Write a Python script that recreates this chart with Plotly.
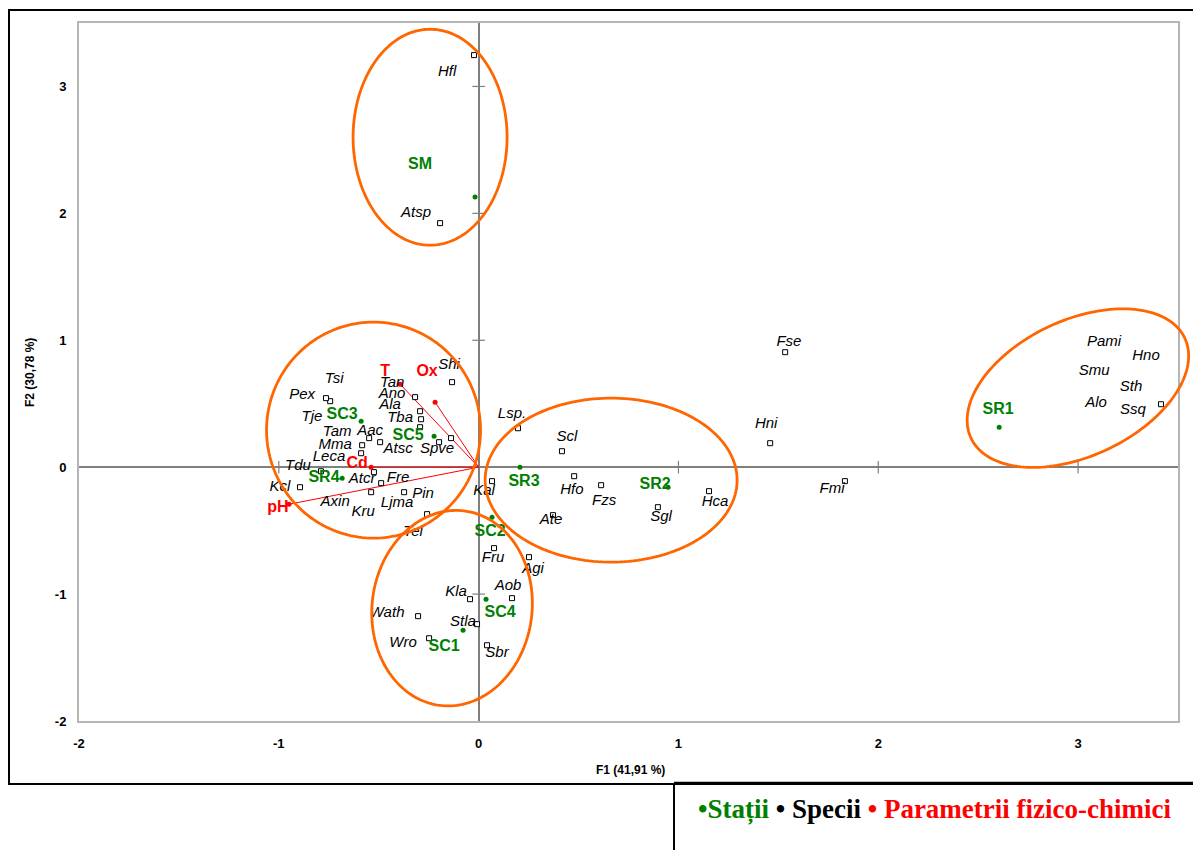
import numpy as np
import plotly.graph_objects as go

# ---------------- data ----------------
SPECIES = ["Hfl", "Atsp", "Fse", "Hni", "Fmi", "Ssq", "Pami", "Hno", "Smu", "Sth",
           "Alo", "Lsp.", "Scl", "Kal", "Hfo", "Fzs", "Ate", "Sgl", "Hca", "Tel",
           "Fru", "Agi", "Aob", "Kla", "Wath", "Stla", "Wro", "Sbr", "Shi", "Tan",
           "Ano", "Ala", "Tba", "Atsc", "Spve", "Tsi", "Pex", "Tje", "Tam", "Aac",
           "Mma", "Leca", "Tdu", "Kcl", "Atcr", "Fre", "Axin", "Kru", "Ljma", "Pin"]
SP_X = [-0.023, -0.193, 1.534, 1.459, 1.833, 3.415, None, None, None, None,
        None, 0.197, 0.417, 0.067, 0.478, 0.613, 0.372, 0.897, 1.153, -0.258,
        0.077, 0.252, 0.167, -0.043, -0.303, -0.008, -0.248, 0.042, -0.133, -0.318,
        -0.293, -0.288, -0.293, -0.198, -0.138, -0.743, -0.764, None, -0.548, -0.493,
        -0.583, -0.588, -0.789, -0.894, -0.524, -0.488, None, -0.538, None, -0.373]
SP_Y = [3.247, 1.923, 0.906, 0.189, -0.110, 0.496, None, None, None, None,
        None, 0.307, 0.126, -0.110, -0.071, -0.142, -0.378, -0.315, -0.189, -0.370,
        -0.638, -0.709, -1.032, -1.040, -1.174, -1.237, -1.348, -1.403, 0.670, 0.552,
        0.441, 0.378, 0.315, 0.197, 0.229, 0.520, 0.544, None, 0.229, 0.197,
        0.173, 0.110, -0.032, -0.158, -0.039, -0.126, None, -0.197, None, -0.197]
SP_LABEL_X = [-0.158, -0.313, 1.553, 1.439, 1.769, 3.275, 3.130, 3.340, 3.080, 3.265,
              3.090, 0.167, 0.442, 0.027, 0.467, 0.628, 0.362, 0.913, 1.183, -0.328,
              0.072, 0.272, 0.147, -0.113, -0.458, -0.078, -0.378, 0.092, -0.148, -0.433,
              -0.433, -0.443, -0.393, -0.403, -0.208, -0.723, -0.883, -0.834, -0.708, -0.543,
              -0.718, -0.749, -0.904, -0.994, -0.583, -0.403, -0.718, -0.578, -0.408, -0.278]
SP_LABEL_Y = [3.113, 2.002, 0.985, 0.339, -0.173, 0.449, 0.985, 0.875, 0.756, 0.630,
              0.504, 0.418, 0.236, -0.189, -0.181, -0.268, -0.418, -0.394, -0.276, -0.512,
              -0.717, -0.804, -0.938, -0.985, -1.150, -1.221, -1.387, -1.466, 0.804, 0.662,
              0.575, 0.489, 0.386, 0.142, 0.142, 0.693, 0.567, 0.394, 0.276, 0.284,
              0.173, 0.079, 0.008, -0.158, -0.095, -0.087, -0.276, -0.355, -0.284, -0.213]

STATIONS = ["SM", "SR1", "SR2", "SR3", "SR4", "SC1", "SC2", "SC3", "SC4", "SC5"]
ST_X = [-0.018, 2.605, 0.948, 0.207, -0.683, -0.078, 0.067, -0.588, 0.037, -0.223]
ST_Y = [2.128, 0.315, -0.158, 0.000, -0.087, -1.284, -0.394, 0.362, -1.040, 0.244]
ST_LABEL_X = [-0.293, 2.600, 0.883, 0.227, -0.774, -0.173, 0.057, -0.683, 0.107, -0.353]
ST_LABEL_Y = [2.380, 0.449, -0.142, -0.118, -0.087, -1.418, -0.512, 0.410, -1.150, 0.244]

PARAMS = ["T", "Ox", "Cd", "pH"]
PA_X = [-0.393, -0.218, -0.538, -0.949]
PA_Y = [0.654, 0.512, 0.000, -0.292]
PA_LABEL_X = [-0.468, -0.258, -0.608, -1.004]
PA_LABEL_Y = [0.749, 0.749, 0.024, -0.323]

X_TICKS = [-2, -1, 0, 1, 2, 3]
Y_TICKS = [-2, -1, 0, 1, 2, 3]
X_TICK_TEXT = ["-2", "-1", "0", "1", "2", "3"]
Y_TICK_TEXT = ["-2", "-1", "0", "1", "2", "3"]

# group ellipses: centre (data), semi-axes (screen px), rotation (deg)
ELLIPSES = [
    (-0.243, 2.600, 77, 108, 0),
    (-0.526, 0.292, 107, 108, 0),
    (0.663, -0.102, 126, 82, 0),
    (-0.133, -1.111, 80, 98, -7),
    (2.999, 0.623, 118, 68, 25),
]

# ---------------- figure ----------------
W, H = 1193, 850
ML, MR, MT, MB = 79, 15, 23, 129
XR = [-2, 3.5]
YR = [-2, 3.5]
SX = (W - ML - MR) / (XR[1] - XR[0])
SY = (H - MT - MB) / (YR[1] - YR[0])

GREEN = "#008000"
RED = "#FF0000"
ORANGE = "#FF6600"
AXGREY = "#7f7f7f"
FONT = "Liberation Sans"

fig = go.Figure()

# tick crosses on the zero axes
fig.add_trace(go.Scatter(x=[t for t in X_TICKS if t not in (0, -2)],
                         y=[0] * 4, mode="markers", hoverinfo="skip",
                         marker=dict(symbol="line-ns", size=9,
                                     line=dict(color=AXGREY, width=1.2))))
fig.add_trace(go.Scatter(x=[0] * 4, y=[t for t in Y_TICKS if t not in (0, -2)],
                         mode="markers", hoverinfo="skip",
                         marker=dict(symbol="line-ew", size=9,
                                     line=dict(color=AXGREY, width=1.2))))

# parameter vectors
for px, py in zip(PA_X, PA_Y):
    fig.add_trace(go.Scatter(x=[0, px], y=[0, py], mode="lines", hoverinfo="skip",
                             line=dict(color=RED, width=1)))

# species markers
fig.add_trace(go.Scatter(x=SP_X, y=SP_Y, mode="markers", hoverinfo="skip",
                         marker=dict(symbol="square", size=5, color="white",
                                     line=dict(color="black", width=1))))
# station markers
fig.add_trace(go.Scatter(x=ST_X, y=ST_Y, mode="markers", hoverinfo="skip",
                         marker=dict(symbol="circle", size=5, color=GREEN)))
# parameter markers
fig.add_trace(go.Scatter(x=PA_X, y=PA_Y, mode="markers", hoverinfo="skip",
                         marker=dict(symbol="circle", size=5, color=RED)))

# labels
fig.add_trace(go.Scatter(x=SP_LABEL_X, y=SP_LABEL_Y, text=SPECIES, mode="text",
                         textposition="middle center", hoverinfo="skip",
                         textfont=dict(family=FONT, size=15, color="black",
                                       style="italic")))
fig.add_trace(go.Scatter(x=ST_LABEL_X, y=ST_LABEL_Y, text=STATIONS, mode="text",
                         textposition="middle center", hoverinfo="skip",
                         textfont=dict(family=FONT, size=16, color=GREEN,
                                       weight="bold")))
fig.add_trace(go.Scatter(x=PA_LABEL_X, y=PA_LABEL_Y, text=PARAMS, mode="text",
                         textposition="middle center", hoverinfo="skip",
                         textfont=dict(family=FONT, size=16, color=RED,
                                       weight="bold")))


def px_x(p):
    return (p - ML) / (W - ML - MR)


def px_y(p):
    return (H - MB - p) / (H - MT - MB)


# ellipses as paper-referenced paths (so they may extend past the plot frame)
t = np.linspace(0, 2 * np.pi, 181)
for cx, cy, a, b, ang in ELLIPSES:
    th = np.deg2rad(ang)
    u, v = a * np.cos(t), b * np.sin(t)
    X = u * np.cos(th) - v * np.sin(th)
    Y = u * np.sin(th) + v * np.cos(th)
    xs = (cx + X / SX - XR[0]) / (XR[1] - XR[0])
    ys = (cy + Y / SY - YR[0]) / (YR[1] - YR[0])
    path = "M " + " L ".join(f"{xx:.5f},{yy:.5f}" for xx, yy in zip(xs, ys)) + " Z"
    fig.add_shape(type="path", xref="paper", yref="paper", path=path,
                  line=dict(color=ORANGE, width=2.8), layer="above")

# outer frame and legend box
fig.add_shape(type="rect", xref="paper", yref="paper",
              x0=px_x(9), x1=px_x(1205), y0=px_y(784), y1=px_y(10),
              line=dict(color="black", width=2), layer="below")
fig.add_shape(type="line", xref="paper", yref="paper",
              x0=px_x(674), x1=px_x(674), y0=px_y(783), y1=px_y(870),
              line=dict(color="black", width=2))
fig.add_shape(type="line", xref="paper", yref="paper",
              x0=px_x(674), x1=px_x(1205), y0=px_y(783), y1=px_y(783),
              line=dict(color="black", width=2.5))

fig.add_annotation(xref="paper", yref="paper", x=px_x(935), y=px_y(809),
                   showarrow=False, xanchor="center", yanchor="middle",
                   font=dict(family="Liberation Serif", size=27, color="black",
                             weight="bold"),
                   text=('<span style="color:#008000">•Stații</span> • Specii '
                         '<span style="color:#FF0000">• Parametrii fizico-chimici</span>'))

# axis titles
fig.add_annotation(xref="paper", yref="paper", x=px_x(630), y=px_y(770),
                   showarrow=False, xanchor="center", yanchor="middle",
                   text="F1 (41,91 %)",
                   font=dict(family=FONT, size=12, color="black", weight="bold"))
fig.add_annotation(xref="paper", yref="paper", x=px_x(30), y=px_y(373),
                   showarrow=False, xanchor="center", yanchor="middle",
                   textangle=-90, text="F2 (30,78 %)",
                   font=dict(family=FONT, size=12, color="black", weight="bold"))

axis_common = dict(showgrid=False, zeroline=True, zerolinecolor=AXGREY,
                   zerolinewidth=1.5, showline=True, mirror=True,
                   linecolor="#b5b5b5", linewidth=2, ticks="",
                   tickfont=dict(family=FONT, size=13, color="black", weight="bold"))

fig.update_layout(
    width=W, height=H,
    margin=dict(l=ML, r=MR, t=MT, b=MB),
    paper_bgcolor="white", plot_bgcolor="white",
    showlegend=False,
    xaxis=dict(range=XR, tickvals=X_TICKS, ticktext=X_TICK_TEXT,
               ticklabelstandoff=9, **axis_common),
    yaxis=dict(range=YR, tickvals=Y_TICKS, ticktext=Y_TICK_TEXT,
               ticklabelstandoff=8, **axis_common),
)

fig.write_html("out.html",
               config={"displayModeBar": False},
               post_script="document.body.style.margin='0px';"
                           "document.body.style.overflow='hidden';")
